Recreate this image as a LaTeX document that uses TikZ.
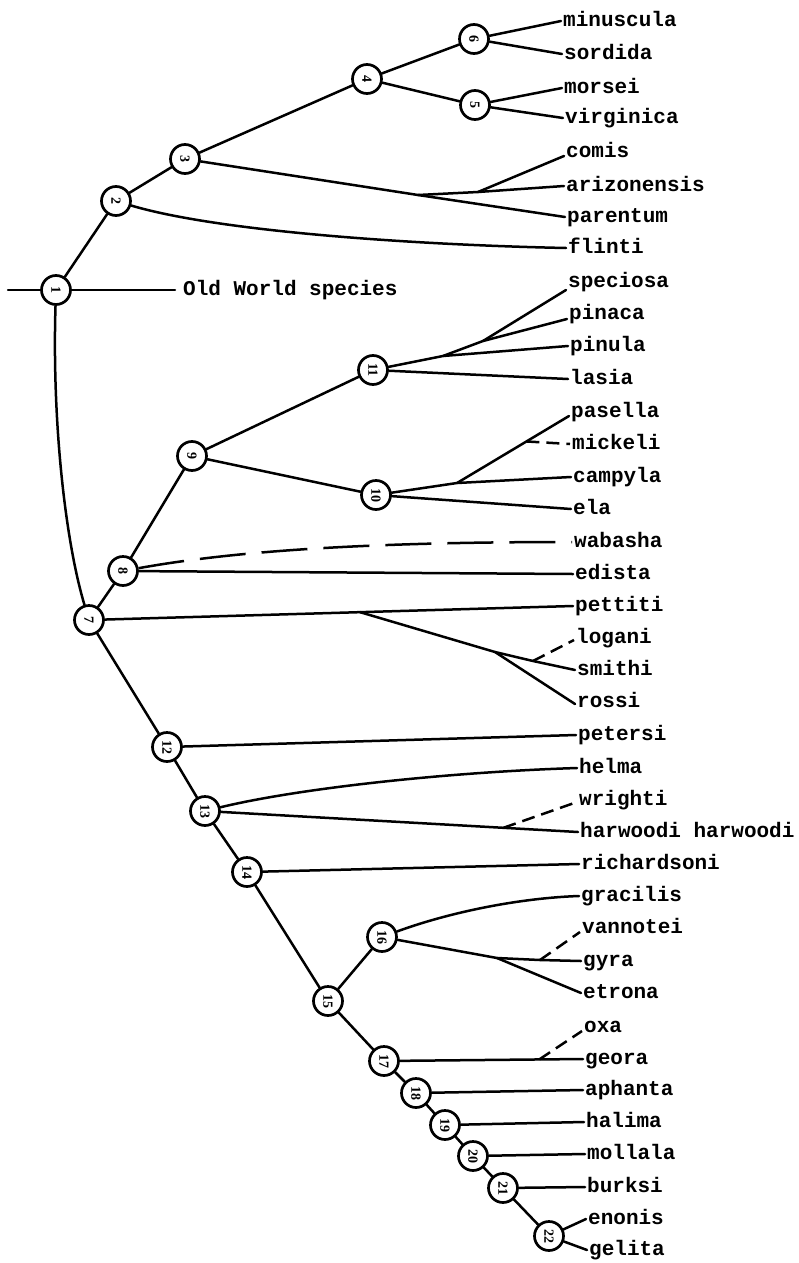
\documentclass[tikz,border=0pt]{standalone}
\usepackage{fontspec}
\setmainfont{Liberation Serif}
\newfontfamily\labfont{Liberation Mono}
\usetikzlibrary{calc}

\begin{document}
\begin{tikzpicture}[x=1pt,y=-1pt,
  br/.style={line width=2.5pt, line cap=round},
  shortdash/.style={br, line cap=butt, dash pattern=on 13pt off 7pt},
  longdash/.style={br, line cap=butt, dash pattern=on 46pt off 16pt},
  num/.style={circle, draw, line width=2.7pt, fill=white, minimum size=29pt,
    inner sep=0pt, font=\bfseries\fontsize{14}{14}\selectfont, rotate=-90},
  leaf/.style={anchor=west, inner xsep=2pt, inner ysep=0pt,
    font=\labfont\bfseries\fontsize{21}{21}\selectfont,
    text height=11pt, text depth=0pt}]

\fill[white] (0,0) rectangle (799,1263);
\useasboundingbox (0,0) rectangle (799,1263);

% ---- species labels ----
\node[leaf] (minuscula)   at (561,21)   {minuscula};
\node[leaf] (sordida)     at (562,54)   {sordida};
\node[leaf] (morsei)      at (562,88)   {morsei};
\node[leaf] (virginica)   at (563,118)  {virginica};
\node[leaf] (comis)       at (564,152)  {comis};
\node[leaf] (arizonensis) at (564,186)  {arizonensis};
\node[leaf] (parentum)    at (565,217)  {parentum};
\node[leaf] (flinti)      at (566,248)  {flinti};
\node[leaf] (speciosa)    at (566,282)  {speciosa};
\node[leaf] (pinaca)      at (567,314)  {pinaca};
\node[leaf] (pinula)      at (568,346)  {pinula};
\node[leaf] (lasia)       at (568,379)  {lasia};
\node[leaf] (pasella)     at (569,412)  {pasella};
\node[leaf] (mickeli)     at (570,444)  {mickeli};
\node[leaf] (campyla)     at (571,477)  {campyla};
\node[leaf] (ela)         at (571,509)  {ela};
\node[leaf] (wabasha)     at (572,542)  {wabasha};
\node[leaf] (edista)      at (573,574)  {edista};
\node[leaf] (pettiti)     at (573,606)  {pettiti};
\node[leaf] (logani)      at (574,638)  {logani};
\node[leaf] (smithi)      at (575,670)  {smithi};
\node[leaf] (rossi)       at (575,702)  {rossi};
\node[leaf] (petersi)     at (576,735)  {petersi};
\node[leaf] (helma)       at (577,768)  {helma};
\node[leaf] (wrighti)     at (577,800)  {wrighti};
\node[leaf] (harwoodi)    at (578,832)  {harwoodi harwoodi};
\node[leaf] (richardsoni) at (579,864)  {richardsoni};
\node[leaf] (gracilis)    at (579,896)  {gracilis};
\node[leaf] (vannotei)    at (580,928)  {vannotei};
\node[leaf] (gyra)        at (581,961)  {gyra};
\node[leaf] (etrona)      at (581,993)  {etrona};
\node[leaf] (oxa)         at (582,1027) {oxa};
\node[leaf] (geora)       at (583,1059) {geora};
\node[leaf] (aphanta)     at (583,1090) {aphanta};
\node[leaf] (halima)      at (584,1122) {halima};
\node[leaf] (mollala)     at (585,1154) {mollala};
\node[leaf] (burksi)      at (585,1187) {burksi};
\node[leaf] (enonis)      at (586,1219) {enonis};
\node[leaf] (gelita)      at (587,1250) {gelita};
\node[leaf] (old)         at (181,290)  {Old World species};

% ---- numbered branch points ----
\node[num] (n1)  at (56,290)   {1};
\node[num] (n2)  at (116,201)  {2};
\node[num] (n3)  at (185,159)  {3};
\node[num] (n4)  at (367,79)   {4};
\node[num] (n5)  at (475,105)  {5};
\node[num] (n6)  at (474,39)   {6};
\node[num] (n7)  at (89,620)   {7};
\node[num] (n8)  at (123,571)  {8};
\node[num] (n9)  at (192,456)  {9};
\node[num] (n10) at (376,495)  {10};
\node[num] (n11) at (373,370)  {11};
\node[num] (n12) at (167,747)  {12};
\node[num] (n13) at (205,811)  {13};
\node[num] (n14) at (247,872)  {14};
\node[num] (n15) at (328,1001) {15};
\node[num] (n16) at (382,937)  {16};
\node[num] (n17) at (384,1061) {17};
\node[num] (n18) at (416,1093) {18};
\node[num] (n19) at (445,1125) {19};
\node[num] (n20) at (473,1156) {20};
\node[num] (n21) at (503,1188) {21};
\node[num] (n22) at (549,1236) {22};

% ---- unnumbered forks ----
\coordinate (root) at (8,290);
\coordinate (j1) at (418,195);
\coordinate (j2) at (478,192);
\coordinate (j3) at (443,356);
\coordinate (j4) at (483,341);
\coordinate (jp) at (457,483);
\coordinate (jm) at ($(jp)!0.62!([yshift=-4pt]pasella.west)$);
\coordinate (j6) at ($(n7)!0.56!(pettiti.west)$);
\coordinate (j7) at (495,652);
\coordinate (j8) at (533,661);
\coordinate (j9) at ($(n13)!0.8!(harwoodi.west)$);
\coordinate (j10) at (497,958);
\coordinate (j11) at (540,960);
\coordinate (j12) at ($(n17)!0.78!(geora.west)$);

% root and Old World
\draw[br] (root) -- (n1);
\draw[br] (n1) -- ([xshift=-6pt]old.west);
\draw[br] (n1) -- (n2);
\draw[br] (n1) .. controls (52,420) and (65,540) .. (n7);

% upper clade
\draw[br] (n2) -- (n3);
\draw[br] (n2) .. controls (220,232) and (420,245) .. (flinti.west);
\draw[br] (n3) -- (n4);
\draw[br] (n4) -- (n6);
\draw[br] (n4) -- (n5);
\draw[br] (n6) -- (minuscula.west);
\draw[br] (n6) -- (sordida.west);
\draw[br] (n5) -- (morsei.west);
\draw[br] (n5) -- (virginica.west);
\draw[br] (n3) -- (j1) -- (j2) -- (arizonensis.west);
\draw[br] (j1) -- (parentum.west);
\draw[br] (j2) -- ([yshift=-4pt]comis.west);

% clade 7 - 11
\draw[br] (n7) -- (n8);
\draw[br] (n8) -- (n9);
\draw[br] (n9) -- (n11);
\draw[br] (n9) -- (n10);
\draw[br] (n11) -- (j3) -- (pinula.west);
\draw[br] (j3) -- (j4) -- ([yshift=-5pt]pinaca.west);
\draw[br] (j4) -- ([yshift=-8pt]speciosa.west);
\draw[br] (n11) -- (lasia.west);
\draw[br] (n10) -- (jp) -- (campyla.west);
\draw[br] (jp) -- ([yshift=-4pt]pasella.west);
\draw[shortdash] (jm) -- (mickeli.west);
\draw[br] (n10) -- (ela.west);
\draw[longdash] (n8) .. controls (250,548) and (400,542) .. (wabasha.west);
\draw[br] (n8) -- (edista.west);
\draw[br] (n7) -- (pettiti.west);
\draw[br] (j6) -- (j7) -- ([yshift=-2pt]rossi.west);
\draw[br] (j7) -- (j8) -- (smithi.west);
\draw[shortdash] (j8) -- ([yshift=-2pt]logani.west);

% main spine
\draw[br] (n7) -- (n12);
\draw[br] (n12) -- (n13);
\draw[br] (n13) -- (n14);
\draw[br] (n14) -- (n15);
\draw[br] (n15) -- (n16);
\draw[br] (n15) -- (n17);
\draw[br] (n17) -- (n18);
\draw[br] (n18) -- (n19);
\draw[br] (n19) -- (n20);
\draw[br] (n20) -- (n21);
\draw[br] (n21) -- (n22);

% lower clade
\draw[br] (n12) -- (petersi.west);
\draw[br] (n13) .. controls (300,788) and (450,772) .. (helma.west);
\draw[br] (n13) -- (harwoodi.west);
\draw[shortdash] (j9) -- ([yshift=-2pt]wrighti.west);
\draw[br] (n14) -- (richardsoni.west);
\draw[br] (n16) .. controls (450,912) and (520,898) .. (gracilis.west);
\draw[br] (n16) -- (j10) -- (etrona.west);
\draw[br] (j10) -- (j11) -- (gyra.west);
\draw[shortdash] (j11) -- ([yshift=-4pt]vannotei.west);
\draw[br] (n17) -- (geora.west);
\draw[shortdash] (j12) -- ([yshift=-4pt]oxa.west);
\draw[br] (n18) -- (aphanta.west);
\draw[br] (n19) -- (halima.west);
\draw[br] (n20) -- (mollala.west);
\draw[br] (n21) -- (burksi.west);
\draw[br] (n22) -- (enonis.west);
\draw[br] (n22) -- (gelita.west);
\end{tikzpicture}
\end{document}
